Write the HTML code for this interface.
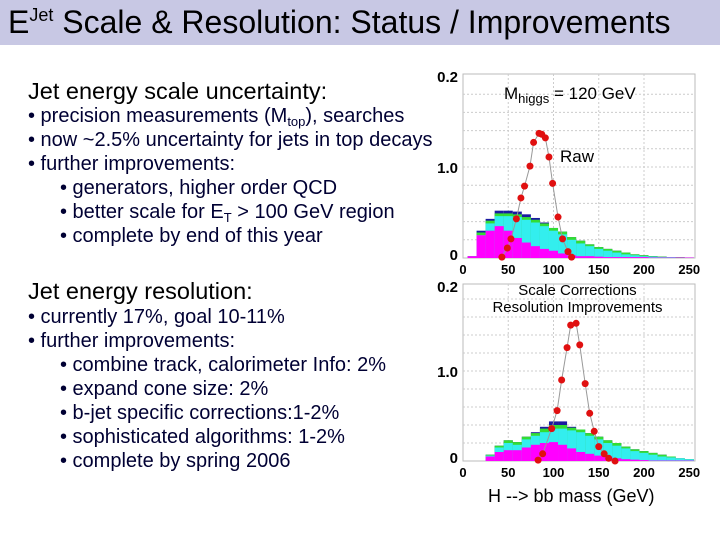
<!DOCTYPE html>
<html><head><meta charset="utf-8"><style>
body{margin:0;width:720px;height:540px;background:#fff;position:relative;overflow:hidden;font-family:"Liberation Sans",sans-serif}
.hdr{position:absolute;left:0;top:0;width:720px;height:45px;background:#c8c8e4}
.title{position:absolute;left:8px;top:4px;font-size:32px;line-height:36px;color:#000;white-space:nowrap}
.title sup{font-size:18px;vertical-align:12px;line-height:0}
.h{position:absolute;left:28px;font-size:23.5px;color:#000;white-space:nowrap}
.b{position:absolute;left:28px;font-size:20px;line-height:24px;color:#000033;white-space:nowrap}
.b div{height:24px}
.b .s{padding-left:32px}
sub{font-size:13px;line-height:0;vertical-align:-4px}
svg{position:absolute;left:0;top:0}
</style></head><body>
<div class="hdr"><div class="title">E<sup>Jet</sup> Scale &amp; Resolution: Status / Improvements</div></div>
<div class="h" style="top:78px">Jet energy scale uncertainty:</div>
<div class="b" style="top:104px">
<div>• precision measurements (M<sub>top</sub>), searches</div>
<div>• now ~2.5% uncertainty for jets in top decays</div>
<div>• further improvements:</div>
<div class="s">• generators, higher order QCD</div>
<div class="s">• better scale for E<sub>T</sub> &gt; 100 GeV region</div>
<div class="s">• complete by end of this year</div>
</div>
<div class="h" style="top:278px">Jet energy resolution:</div>
<div class="b" style="top:305px">
<div>• currently 17%, goal 10-11%</div>
<div>• further improvements:</div>
<div class="s">• combine track, calorimeter Info: 2%</div>
<div class="s">• expand cone size: 2%</div>
<div class="s">• b-jet specific corrections:1-2%</div>
<div class="s">• sophisticated algorithms: 1-2%</div>
<div class="s">• complete by spring 2006</div>
</div>
<svg id="c" width="720" height="540"></svg>
<script>
const binCenters=[10,20,30,40,50,60,70,80,90,100,110,120,130,140,150,160,170,180,190,200,210,220,230,240,250];
const rawMagenta=[0.02,0.25,0.3,0.35,0.3,0.22,0.17,0.13,0.1,0.08,0.05,0.03,0.02,0.02,0.015,0.01,0.01,0.01,0.01,0.01,0.005,0.005,0.005,0.005,0.005];
const rawCyan=[0.02,0.25,0.38,0.46,0.46,0.45,0.42,0.39,0.35,0.3,0.26,0.2,0.16,0.13,0.1,0.08,0.06,0.04,0.03,0.02,0.015,0.01,0.01,0.005,0.005];
const rawGreen=[0.02,0.28,0.41,0.49,0.49,0.48,0.45,0.42,0.38,0.33,0.29,0.23,0.19,0.15,0.12,0.1,0.08,0.06,0.04,0.03,0.02,0.015,0.01,0.008,0.006];
const rawNavy=[0.02,0.3,0.43,0.52,0.52,0.51,0.48,0.44,0.39,0.33,0.29,0.23,0.19,0.15,0.12,0.1,0.08,0.06,0.04,0.03,0.02,0.015,0.01,0.008,0.006];
const rawPtsX=[43,49,53,59,64,68,74,78,84,87,91,95,99,105,110,116,120];
const rawPtsY=[0.01,0.11,0.21,0.43,0.66,0.79,1.01,1.27,1.37,1.36,1.32,1.11,0.82,0.45,0.21,0.07,0.01];
const corMagenta=[0,0,0.05,0.1,0.12,0.12,0.15,0.18,0.2,0.21,0.18,0.14,0.1,0.08,0.06,0.05,0.03,0.02,0.015,0.01,0.005,0.005,0.005,0.005,0.005];
const corCyan=[0,0,0.06,0.15,0.2,0.18,0.24,0.28,0.32,0.36,0.36,0.34,0.32,0.28,0.24,0.2,0.17,0.14,0.11,0.09,0.07,0.05,0.04,0.03,0.02];
const corGreen=[0,0,0.07,0.17,0.23,0.21,0.27,0.31,0.36,0.4,0.4,0.37,0.35,0.31,0.27,0.23,0.2,0.16,0.13,0.11,0.09,0.07,0.05,0.03,0.02];
const corNavy=[0,0,0.07,0.17,0.23,0.21,0.27,0.32,0.38,0.44,0.44,0.38,0.35,0.31,0.27,0.23,0.2,0.16,0.13,0.11,0.09,0.07,0.05,0.03,0.02];
const corPtsX=[83,88,98,104,109,115,119,125,129,135,140,145,150,156,161,168];
const corPtsY=[0.01,0.08,0.36,0.56,0.9,1.26,1.51,1.53,1.29,0.86,0.53,0.33,0.16,0.08,0.03,0.0];
const xTicks=[0,50,100,150,200,250];
const svg=document.getElementById('c');const NS='http://www.w3.org/2000/svg';
function mk(t,a,name){const e=document.createElementNS(NS,t);for(const k in a)e.setAttribute(k,a[k]);


svg.appendChild(e);return e;}
function chart(top,zero,ys,layers,px,py,pfx){
 const xs=v=>463+v*0.905, yv=v=>zero-v*ys;
 mk('rect',{x:463,y:top,width:232,height:zero-top,fill:'#fff',stroke:'#bbb'},pfx+'-frame');
 for(let i=1;i<10;i++){mk('line',{x1:463,x2:695,y1:yv(i*0.2),y2:yv(i*0.2),stroke:'#ccc','stroke-dasharray':'2,2'},pfx+'-hgrid');}
 xTicks.slice(1,5).forEach(t=>mk('line',{x1:xs(t),x2:xs(t),y1:top,y2:zero,stroke:'#ccc','stroke-dasharray':'2,2'},pfx+'-vgrid'));
 const cols=['#1a1aa0','#33dd33','#33eeee','#ff00ff'];
 layers.forEach((arr,li)=>{arr.forEach((v,i)=>{if(v<=0)return;const x0=xs(binCenters[i]-5),x1=xs(binCenters[i]+5);
  mk('rect',{x:Math.max(x0,463),y:yv(v),width:Math.min(x1,695)-Math.max(x0,463),height:zero-yv(v),fill:cols[li]},pfx+'-bkg-bar');});});
 mk('polyline',{points:px.map((v,i)=>xs(v)+','+yv(py[i])).join(' '),fill:'none',stroke:'#999','stroke-width':1},pfx+'-signal-line');
 px.forEach((v,i)=>mk('circle',{cx:xs(v),cy:yv(py[i]),r:3.5,fill:'#e01010'},pfx+'-signal-point'));
 xTicks.forEach(t=>{const e=mk('text',{x:xs(t),y:zero+16,'font-size':13,'font-weight':'bold','text-anchor':'middle','font-family':'Liberation Sans'},pfx+'-x-tick');e.textContent=t;});
 [['0.2',top+8],['1.0',yv(1)+6],['0',zero+2]].forEach(l=>{const e=mk('text',{x:458,y:l[1],'font-size':15,'font-weight':'bold','text-anchor':'end','font-family':'Liberation Sans'},pfx+'-y-tick');e.textContent=l[0];});
}
chart(74,258,91,[rawNavy,rawGreen,rawCyan,rawMagenta],rawPtsX,rawPtsY,'raw');
chart(284,461,90,[corNavy,corGreen,corCyan,corMagenta],corPtsX,corPtsY,'corrected');
</script>
<div style="position:absolute;left:504px;top:84px;font-size:17px;white-space:nowrap">M<sub>higgs</sub> = 120 GeV</div>
<div style="position:absolute;left:560px;top:147px;font-size:17px">Raw</div>
<div style="position:absolute;left:465px;top:282px;width:225px;text-align:center;font-size:15px;line-height:17px">Scale Corrections<br>Resolution Improvements</div>
<div style="position:absolute;left:488px;top:486px;font-size:18px;white-space:nowrap">H --&gt; bb mass (GeV)</div>
</body></html>
